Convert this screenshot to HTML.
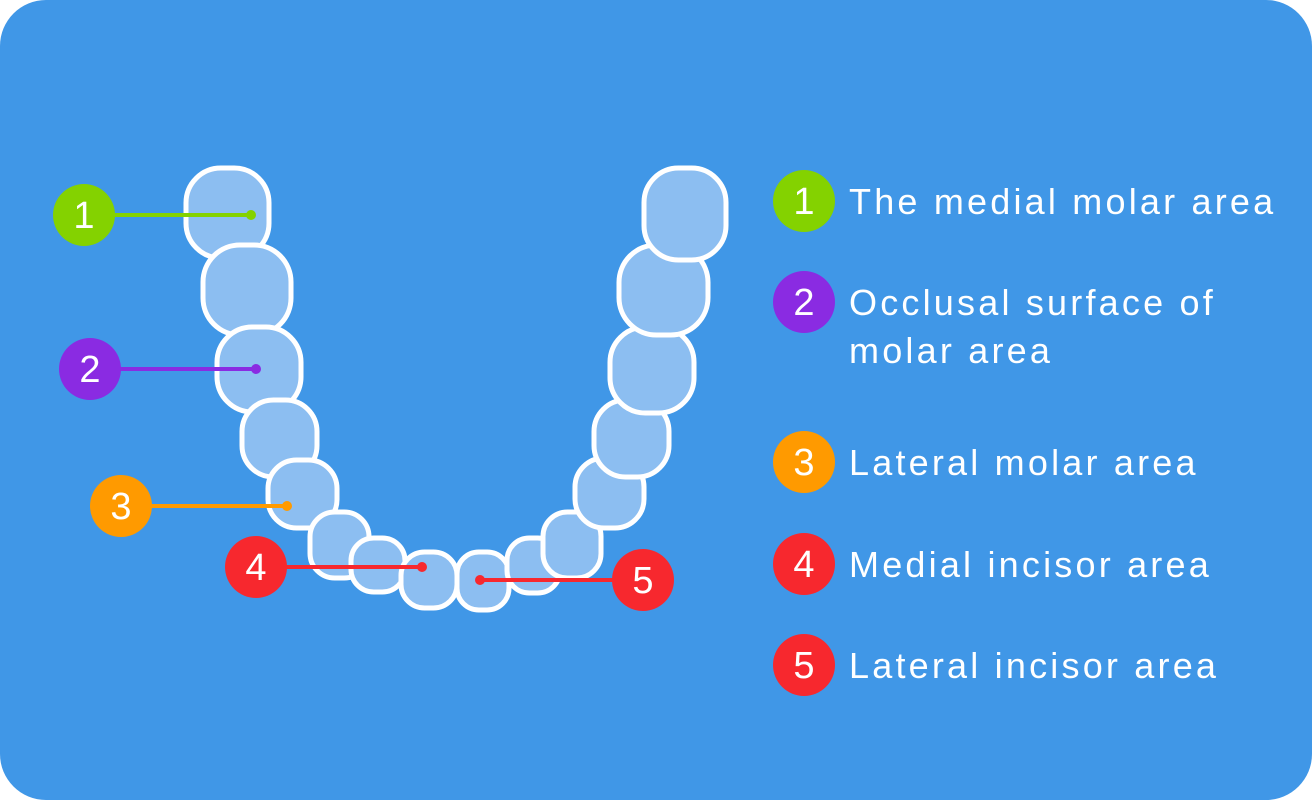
<!DOCTYPE html>
<html><head><meta charset="utf-8"><style>
html,body{margin:0;padding:0;background:#fff;}
svg{display:block;font-family:"Liberation Sans",sans-serif;}
</style></head><body>
<svg width="1312" height="800" viewBox="0 0 1312 800">
<rect x="0" y="0" width="1312" height="800" rx="46" fill="#4097e7"/>
<g id="teeth" fill="#8cbef1" stroke="#fff" stroke-width="5"></g>
<g id="callouts"></g>
<g id="legend"></g>
</svg>
<script>
const teeth=[[186,269,168,258],[203,291,245,335],[217,301,327,412],[242,317,400,477],[268,337,460,528],[310,369,512,578],[351,405,538,592],[401,457,552,608],[457,509,552,610],[507,560,538,593],[543,601,512,578],[575,644,458,528],[594,669,400,477],[610,694,327,413],[619,708,245,335],[644,726,168,260]];
const NS="http://www.w3.org/2000/svg";
const tg=document.getElementById('teeth');
teeth.forEach((t,i)=>{const r=document.createElementNS(NS,'rect');
const w=t[1]-t[0],h=t[3]-t[2];
r.setAttribute('x',t[0]);r.setAttribute('y',t[2]);r.setAttribute('width',w);r.setAttribute('height',h);
r.setAttribute('rx',Math.min(w,h)*0.42);


tg.appendChild(r);});
const labels=['1','2','3','4','5'];
const colors=['#84d200','#8a2be2','#ff9a00','#f7282e','#f7282e'];
const circX=[84,90,121,256,643];
const circY=[215,369,506,567,580];
const dotX=[251,256,287,422,480];
const cg=document.getElementById('callouts');
labels.forEach((l,i)=>{
 const g=document.createElementNS(NS,'g');
 
 
 g.innerHTML=`<line x1="${circX[i]}" y1="${circY[i]}" x2="${dotX[i]}" y2="${circY[i]}" stroke="${colors[i]}" stroke-width="4"/>
<circle cx="${dotX[i]}" cy="${circY[i]}" r="5" fill="${colors[i]}"/>
<circle cx="${circX[i]}" cy="${circY[i]}" r="31" fill="${colors[i]}"/>
<text x="${circX[i]}" y="${circY[i]+13}" text-anchor="middle" font-size="38" fill="#fff">${l}</text>`;
 cg.appendChild(g);});
const legText=[['The medial molar area'],['Occlusal surface of','molar area'],['Lateral molar area'],['Medial incisor area'],['Lateral incisor area']];
const legY=[201,302,462,564,665];
const lg=document.getElementById('legend');
labels.forEach((l,i)=>{
 const g=document.createElementNS(NS,'g');
 
 
 let s=`<circle cx="804" cy="${legY[i]}" r="31" fill="${colors[i]}"/>
<text x="804" y="${legY[i]+13}" text-anchor="middle" font-size="38" fill="#fff">${l}</text>`;
 legText[i].forEach((t,j)=>{s+=`<text x="849" y="${legY[i]+13+j*48}" font-size="36" letter-spacing="3.2" fill="#fff">${t}</text>`;});
 g.innerHTML=s;lg.appendChild(g);});
</script>
</body></html>
